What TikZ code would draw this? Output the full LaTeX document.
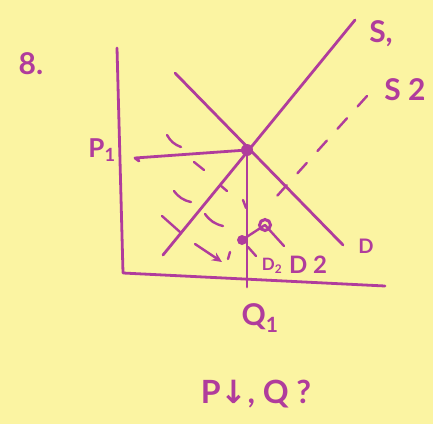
\documentclass[tikz,border=0pt]{standalone}
\usepackage{fontspec}
\setmainfont{Lato}
\newfontfamily\symfont{DejaVu Sans}
\usetikzlibrary{arrows.meta}
\definecolor{ink}{HTML}{B03C9C}
\definecolor{paper}{HTML}{FBF4A2}
\begin{document}
\begin{tikzpicture}[x=1pt,y=-1pt,
  inkline/.style={draw=ink, line width=2.8pt, line cap=round, line join=round},
  thinink/.style={draw=ink, line width=2.4pt, line cap=round},
  lbl/.style={text=ink, inner sep=0pt, font=\bfseries\fontsize{30}{32}\selectfont}]
\fill[paper] (0,0) rectangle (433,424);
\useasboundingbox (0,0) rectangle (433,424);
% axes
\coordinate (ytop) at (117,48);
\coordinate (O) at (123,273);
\coordinate (xend) at (385,286);
\draw[inkline] (ytop) -- (O) -- (xend);
% supply S1 and demand D
\coordinate (s1a) at (163,255); \coordinate (s1b) at (355,20);
\coordinate (da) at (175,73);   \coordinate (db) at (343,245);
\draw[inkline] (s1a) -- (s1b);
\draw[inkline] (da) -- (db);
% equilibrium
\coordinate (E) at (247,150);
\coordinate (Q) at (247,287);
\coordinate (P) at (135,158);
\draw[inkline] (E) -- (Q);
\draw[inkline] (E) -- (P) -- ++(4,3);
\fill[ink] (E) circle (6pt);
% S2 dashed
\coordinate (s2a) at (367,96); \coordinate (s2b) at (268,206);
\draw[thinink, dash pattern=on 14pt off 16pt] (s2a) -- (s2b);
% new points
\coordinate (C) at (265,225);
\coordinate (F) at (242,240);
\draw[draw=ink, line width=3pt] (C) circle (5.5pt);
\fill[ink] (F) circle (5pt);
\draw[thinink] (F) -- (C);
\draw[thinink] (C) -- (284,246);
% dashed shifted demand marks
\draw[thinink] (167,135) to[bend right=20] (181,147);
\draw[thinink] (194,162) -- (204,170);
\draw[thinink] (220,185) -- (227,191);
\draw[thinink] (243,200) -- (246,208);
\draw[thinink] (174,191) to[bend right=20] (191,202);
\draw[thinink] (205,214) to[bend right=20] (223,226);
\draw[thinink] (248,247) -- (256,256);
\draw[thinink] (162,216) -- (180,232);
\draw[thinink, -{Stealth[length=10pt,width=9pt]}] (195,244) -- (222,262);
\draw[thinink] (230,252) -- (228,259);
% labels
\node[lbl] (n8) at (31,64) {8.};
\node[lbl, font=\bfseries\fontsize{26}{28}\selectfont] (p1) at (102,150) {P$_\mathbf{1}$};
\node[lbl] (s1l) at (381,34) {S,};
\node[lbl] (s2l) at (405,90) {S 2};
\node[lbl, font=\bfseries\fontsize{20}{22}\selectfont] (dl) at (366,246) {D};
\node[lbl, font=\bfseries\fontsize{17}{19}\selectfont] (d2s) at (272,266) {D$_\mathbf{2}$};
\node[lbl, font=\bfseries\fontsize{24}{26}\selectfont] (d2) at (308,265) {D 2};
\node[lbl] (q1) at (260,318) {Q$_\mathbf{1}$};
\node[lbl, font=\bfseries\fontsize{32}{34}\selectfont] (pq) at (256,394) {P{\symfont↓}, Q ?};
\end{tikzpicture}
\end{document}
